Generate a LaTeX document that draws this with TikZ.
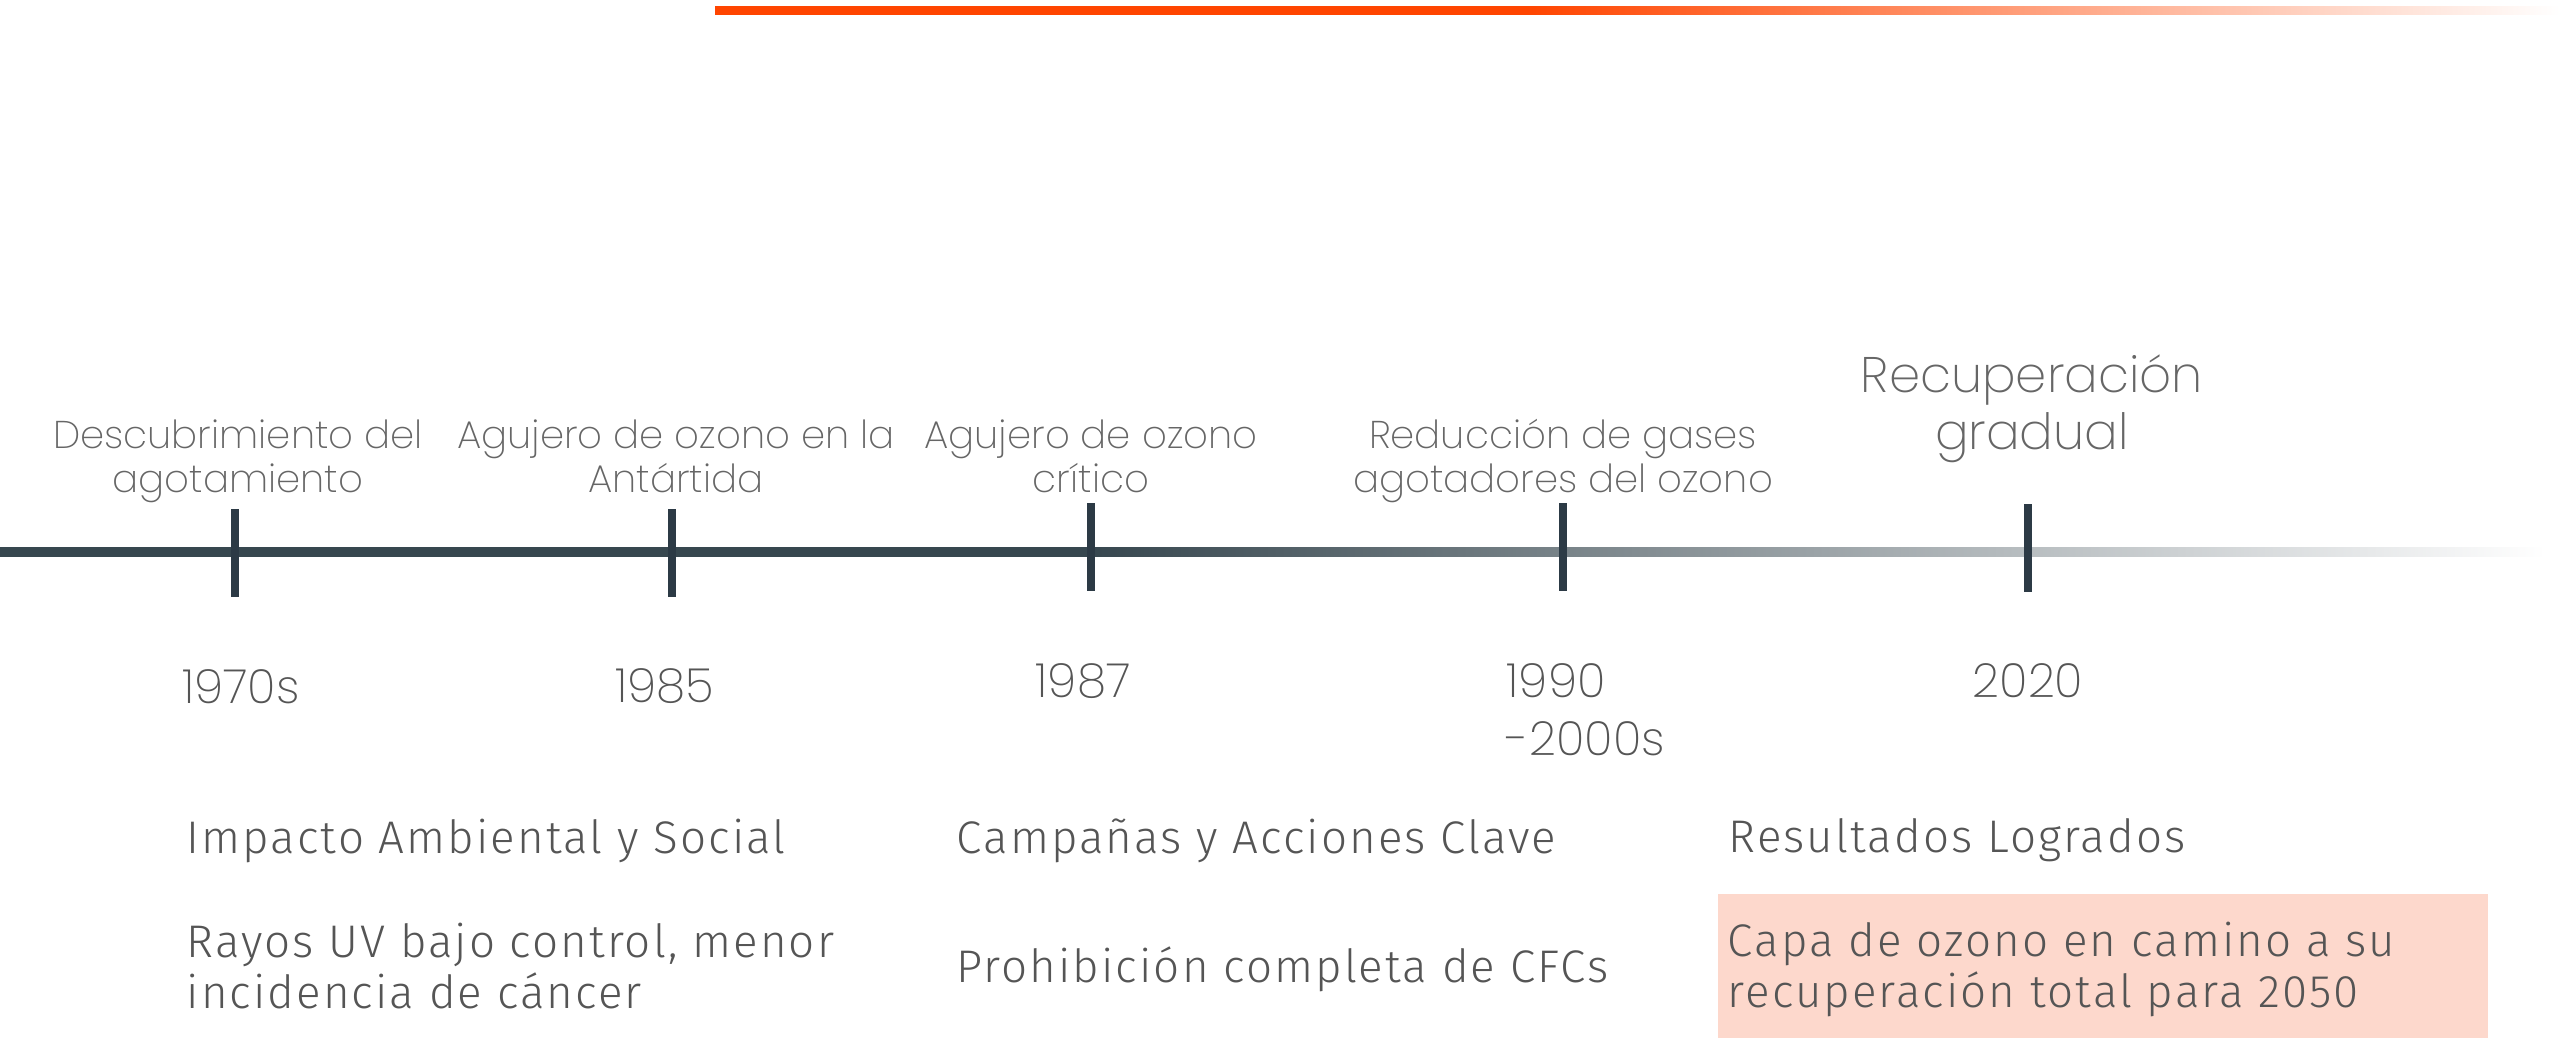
\documentclass[tikz,border=0pt]{standalone}
\usepackage{fontspec}
\usetikzlibrary{positioning}
\definecolor{ozoneorange}{HTML}{FF4500}
\definecolor{slate}{HTML}{37474F}
\definecolor{tickslate}{HTML}{2C3A45}
\definecolor{labelgray}{HTML}{666666}
\definecolor{yeargray}{HTML}{555555}
\definecolor{peach}{HTML}{FDD8CC}
% light faces, falling back to the regular ones
\IfFontExistsTF{Poppins ExtraLight}{\newfontfamily\headfont{Poppins ExtraLight}}{%
  \IfFontExistsTF{Poppins-ExtraLight.ttf}{\newfontfamily\headfont{Poppins-ExtraLight.ttf}}{%
    \IfFontExistsTF{Poppins Light}{\newfontfamily\headfont{Poppins Light}}{\newfontfamily\headfont{Poppins}}}}
\IfFontExistsTF{FiraSans-Light.otf}{\newfontfamily\bodyfont{FiraSans-Light.otf}[LetterSpace=4.5]}{%
  \IfFontExistsTF{Fira Sans Light}{\newfontfamily\bodyfont{Fira Sans Light}[LetterSpace=4.5]}{%
    \newfontfamily\bodyfont{Fira Sans}[LetterSpace=4.5]}}
% solid first part, then fading out (25bp..75bp is the path)
\pgfdeclarehorizontalshading{orangefade}{100bp}{color(0bp)=(ozoneorange); color(47bp)=(ozoneorange);
  color(75bp)=(white); color(100bp)=(white)}
\pgfdeclarehorizontalshading{slatefade}{100bp}{color(0bp)=(slate); color(46.4bp)=(slate);
  color(75bp)=(white); color(100bp)=(white)}

\begin{document}
\begin{tikzpicture}[x=0.01cm,y=-0.01cm,
  eventlabel/.style={labelgray,inner sep=0pt,align=center,anchor=base,
    font=\headfont\fontsize{11}{12.5}\selectfont},
  biglabel/.style={eventlabel,font=\headfont\fontsize{14.2}{16.2}\selectfont},
  yearlabel/.style={yeargray,inner sep=0pt,anchor=base,
    font=\headfont\fontsize{13.4}{16.5}\selectfont},
  themelabel/.style={yeargray,inner sep=0pt,align=left,anchor=base west,
    font=\bodyfont\fontsize{13}{14.5}\selectfont},
  tickmark/.style={fill=tickslate,inner sep=0pt,minimum width=0.08cm,minimum height=0.87cm}]
  \useasboundingbox (0,0) rectangle (2560,1038);

  % top accent bar
  \shade[shading=orangefade] (715,6) rectangle (2560,14);

  % timeline
  \shade[shading=slatefade] (0,547) rectangle (2545,556);
  \foreach \x/\y [count=\i] in {235/553, 672/553, 1091/547, 1563/547, 2028/548} {
    \node[tickmark] (tick\i) at (\x,\y) {};
  }

  % events above the line (base = last line)
  \node[eventlabel] (ev1) at (238,492) {Descubrimiento del\\agotamiento};
  \node[eventlabel] (ev2) at (676,492) {Agujero de ozono en la\\Antártida};
  \node[eventlabel] (ev3) at (1091,492) {Agujero de ozono\\crítico};
  \node[eventlabel] (ev4) at (1563,492) {Reducción de gases\\agotadores del ozono};
  \node[biglabel] (ev5) at (2032,449) {Recuperación\\gradual};

  % years below the line
  \node[yearlabel] (yr1) at (241,703) {1970s};
  \node[yearlabel] (yr2) at (665,702) {1985};
  \node[yearlabel] (yr3) at (1083,697) {1987};
  \node[yearlabel,align=left,anchor=base west] (yr4) at (1506,755) {1990\\-2000s};
  \node[yearlabel] (yr5) at (2028,697) {2020};

  % summary rows
  \fill[peach] (1718,894) rectangle (2488,1038);
  \node[themelabel] (impacto) at (186,853) {Impacto Ambiental y Social};
  \node[themelabel] (campanas) at (956,853) {Campañas y Acciones Clave};
  \node[themelabel] (resultados) at (1728,852) {Resultados Logrados};
  \node[themelabel] (rayos) at (186,1008) {Rayos UV bajo control, menor\\incidencia de cáncer};
  \node[themelabel] (cfc) at (956,982) {Prohibición completa de CFCs};
  \node[themelabel] (capa) at (1727,1007) {Capa de ozono en camino a su\\recuperación total para 2050};
\end{tikzpicture}
\end{document}
